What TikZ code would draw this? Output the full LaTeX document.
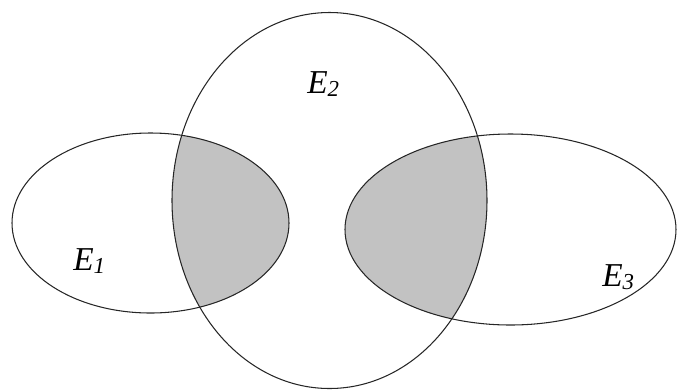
\documentclass[tikz,border=0pt]{standalone}
\usepackage{fontspec}
\setmainfont{Liberation Serif}
\usepackage{xcolor}
\usetikzlibrary{positioning}
\definecolor{venngray}{HTML}{C2C2C2}
\newcommand{\setname}[2]{\textit{#1}\raisebox{-2.2pt}{\fontsize{13}{13}\selectfont\textit{#2}}}

\begin{document}
\begin{tikzpicture}[
    x=0.02cm,y=-0.02cm,
    bord/.style  = {draw=black!85,line width=0.6pt},
    zone/.style  = {fill=venngray},
    nom/.style   = {anchor=base west,inner sep=0pt,font=\fontsize{19}{22}\selectfont},
  ]
  \useasboundingbox (0,0) rectangle (677,390);

  % intersections ombrees
  \begin{scope}
    \clip (329.5,200.5) ellipse [x radius=157.5,y radius=188];
    \fill[zone] (150.5,223) ellipse [x radius=138.5,y radius=90];
    \fill[zone] (510.5,229.5) ellipse [x radius=165.5,y radius=95.5];
  \end{scope}

  \draw[bord] (150.5,223) ellipse [x radius=138.5,y radius=90];
  \draw[bord] (329.5,200.5) ellipse [x radius=157.5,y radius=188];
  \draw[bord] (510.5,229.5) ellipse [x radius=165.5,y radius=95.5];

  \node[nom] (e1) at (73,270)  {\setname{E}{1}};
  \node[nom] (e2) at (307,93)  {\setname{E}{2}};
  \node[nom] (e3) at (602,286) {\setname{E}{3}};

\end{tikzpicture}
\end{document}
